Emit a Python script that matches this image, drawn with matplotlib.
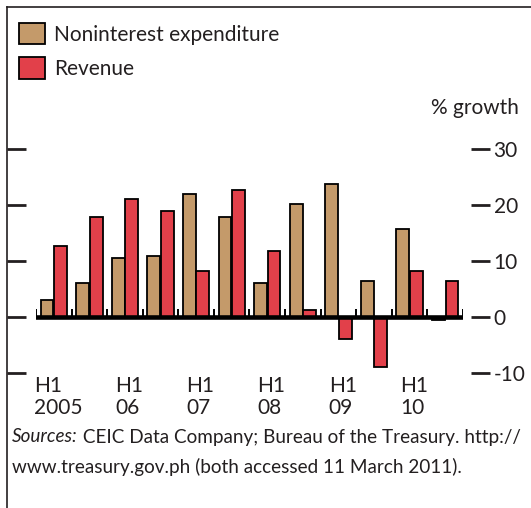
import matplotlib
matplotlib.use("Agg")
import matplotlib.pyplot as plt
import numpy as np
from matplotlib.lines import Line2D

# half-year periods, H1 2005 .. H2 2010
periods = ["H1 2005", "H2 2005", "H1 06", "H2 06", "H1 07", "H2 07",
           "H1 08", "H2 08", "H1 09", "H2 09", "H1 10", "H2 10"]
noninterest = [3.0, 6.1, 10.5, 10.9, 22.0, 17.9, 6.1, 20.2, 23.7, 6.5, 15.8, -0.6]
revenue = [12.7, 17.9, 21.1, 18.9, 8.3, 22.7, 11.8, 1.2, -4.0, -8.9, 8.3, 6.5]
year_labels = ["H1\n2005", "H1\n06", "H1\n07", "H1\n08", "H1\n09", "H1\n10"]
y_ticks = [-10, 0, 10, 20, 30]
y_ticklabels = ["-10", "0", "10", "20", "30"]

TAN = "#C49A6A"
RED = "#E2404A"
INK = "#231F20"
FS = 15
FS_NOTE = 13.6

plt.rcParams["font.family"] = ["Lato", "DejaVu Sans"]

W, H = 531, 508
fig = plt.figure(figsize=(W / 100, H / 100), dpi=100)

# axes placed in pixel terms: x 36..463, y 30 at 149, -10 at 373
ax = fig.add_axes([36 / W, 1 - 373 / H, 427 / W, 224 / H])
ax.set_xlim(0, len(periods))
ax.set_ylim(-10, 30)

x = np.arange(len(periods))
bw = 0.36
ax.bar(x + 0.31, noninterest, bw, color=TAN, edgecolor="black", linewidth=1.3,
       label="Noninterest expenditure", zorder=3)
ax.bar(x + 0.69, revenue, bw, color=RED, edgecolor="black", linewidth=1.3,
       label="Revenue", zorder=3)

# zero line with small period separators
ax.axhline(0, color="black", linewidth=3.3, zorder=4)
ax.vlines(np.arange(len(periods) + 1), 0, 1.4, color="black", linewidth=1.4, zorder=4)

for s in ax.spines.values():
    s.set_visible(False)
ax.spines["left"].set_position(("outward", 7))
ax.spines["right"].set_position(("outward", 6))
ax.set_xticks([])
ax.set_yticks(y_ticks)
ax.set_yticklabels(y_ticklabels)
ax.tick_params(axis="y", left=True, right=True, labelleft=False, labelright=True,
               direction="out", length=13.5, width=2.0, color=INK,
               labelsize=FS, labelcolor=INK, pad=2.5)

# period labels
for k, lab in enumerate(year_labels):
    ax.text(2 * k + 0.62, -14.3, lab, ha="center", va="center", multialignment="left",
            fontsize=FS, color=INK, linespacing=1.15, clip_on=False)

fig.text(519 / W, 1 - 108 / H, "% growth", ha="right", va="center",
         fontsize=FS, color=INK)

handles, labels = ax.get_legend_handles_labels()
fig.legend(handles, labels, loc="upper left",
           bbox_to_anchor=(19 / W, 1 - 23 / H), frameon=False,
           fontsize=FS, handlelength=1.25, handleheight=1.2,
           handletextpad=0.45, labelspacing=0.6, borderpad=0,
           borderaxespad=0, labelcolor=INK)

# sources note
fig.canvas.draw()
r = fig.canvas.get_renderer()
t1 = fig.text(12 / W, 1 - 437 / H, "Sources:", style="italic", ha="left",
              va="center", fontsize=FS_NOTE, color=INK)
bb = t1.get_window_extent(renderer=r)
fig.text(bb.x1 / W, 1 - 437 / H, " CEIC Data Company; Bureau of the Treasury. http://",
         ha="left", va="center", fontsize=FS_NOTE, color=INK)
fig.text(12 / W, 1 - 467 / H, "www.treasury.gov.ph (both accessed 11 March 2011).",
         ha="left", va="center", fontsize=FS_NOTE, color=INK)

# frame lines (top and left)
fig.add_artist(Line2D([7 / W, 7 / W], [0, 1 - 7 / H], color=INK, linewidth=1.2))
fig.add_artist(Line2D([7 / W, 1], [1 - 7 / H, 1 - 7 / H], color=INK, linewidth=1.2))

fig.savefig("out.png", dpi=100)
